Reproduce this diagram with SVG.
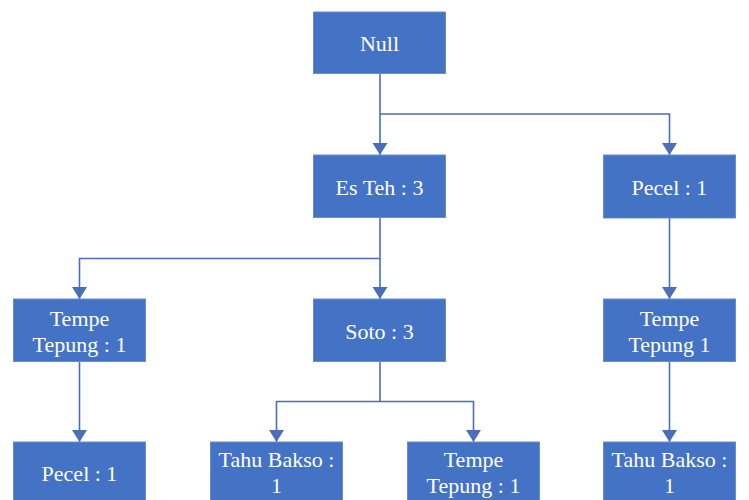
<svg xmlns="http://www.w3.org/2000/svg" width="749" height="500" viewBox="0 0 749 500">
<style>
.box{fill:#4472C4;stroke:#6a8ccd;stroke-width:1}
.t{font-family:"Liberation Serif","Times New Roman",serif;font-size:22px;fill:#ffffff;text-anchor:middle}
.c{fill:none;stroke:#4a6fb8;stroke-width:1.6}
</style>
<defs>
<marker id="arr" markerUnits="userSpaceOnUse" markerWidth="16" markerHeight="16" viewBox="0 0 16 16" refX="12" refY="8" orient="auto">
<path d="M0,0.5 L12,8 L0,15.5 Z" fill="#4a6fb8"/>
</marker>
</defs>
<rect width="749" height="500" fill="#ffffff"/>
<g id="connectors">
<path class="c" d="M380,73 V155" marker-end="url(#arr)"/>
<path class="c" d="M380,114 H669.5 V155" marker-end="url(#arr)"/>
<path class="c" d="M380,217 V299" marker-end="url(#arr)"/>
<path class="c" d="M380,258.5 H79.5 V299" marker-end="url(#arr)"/>
<path class="c" d="M669.5,218 V299" marker-end="url(#arr)"/>
<path class="c" d="M79.5,362 V442" marker-end="url(#arr)"/>
<path class="c" d="M380,362 V401.5 H276.5 V442" marker-end="url(#arr)"/>
<path class="c" d="M380,401.5 H473.5 V442" marker-end="url(#arr)"/>
<path class="c" d="M669.5,362 V442" marker-end="url(#arr)"/>
</g>
<g id="n-null"><rect class="box" x="313.5" y="12" width="132" height="61.5"/><text class="t" x="379.5" y="50.5">Null</text></g>
<g id="n-esteh"><rect class="box" x="313.5" y="155" width="132" height="62.5"/><text class="t" x="379.5" y="194.5">Es Teh : 3</text></g>
<g id="n-pecel1"><rect class="box" x="603.5" y="155" width="132" height="63"/><text class="t" x="669.5" y="194.5">Pecel : 1</text></g>
<g id="n-tempe1"><rect class="box" x="13.5" y="299" width="132" height="62.5"/><text class="t" x="79.5" y="325.5">Tempe</text><text class="t" x="79.5" y="351.5">Tepung : 1</text></g>
<g id="n-soto"><rect class="box" x="313.5" y="299" width="132" height="62.5"/><text class="t" x="379.5" y="338.5">Soto : 3</text></g>
<g id="n-tempe2"><rect class="box" x="603.5" y="299" width="132" height="62.5"/><text class="t" x="669.5" y="325.5">Tempe</text><text class="t" x="669.5" y="351.5">Tepung 1</text></g>
<g id="n-pecel2"><rect class="box" x="13.5" y="442" width="132" height="62"/><text class="t" x="79.5" y="481">Pecel : 1</text></g>
<g id="n-tahu1"><rect class="box" x="210.5" y="442" width="132" height="62"/><text class="t" x="276.5" y="467">Tahu Bakso :</text><text class="t" x="276.5" y="493">1</text></g>
<g id="n-tempe3"><rect class="box" x="407.5" y="442" width="132" height="62"/><text class="t" x="473.5" y="467">Tempe</text><text class="t" x="473.5" y="493">Tepung : 1</text></g>
<g id="n-tahu2"><rect class="box" x="603.5" y="442" width="132" height="62"/><text class="t" x="669.5" y="467">Tahu Bakso :</text><text class="t" x="669.5" y="493">1</text></g>
</svg>
